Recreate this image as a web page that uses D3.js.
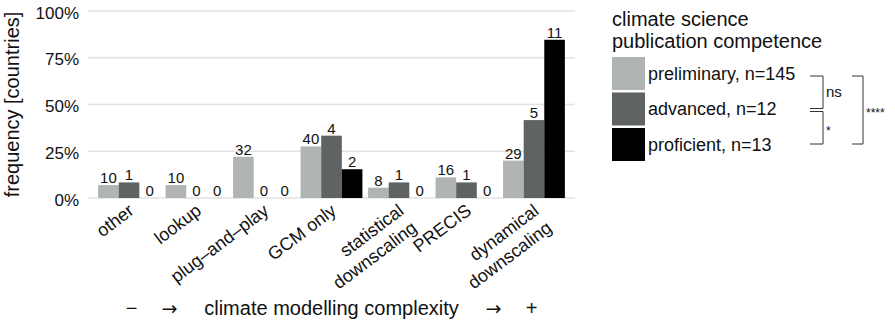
<!DOCTYPE html>
<html>
<head>
<meta charset="utf-8">
<script src="https://cdn.jsdelivr.net/npm/d3@7"></script>
<style>
  body { margin: 0; background: #fff; }
  text { font-family: "Liberation Sans", Arial, sans-serif; fill: #111; }
</style>
</head>
<body>
<script>
// categories, ordered by modelling complexity
const categories = [
  ["other"],
  ["lookup"],
  ["plug\u2013and\u2013play"],
  ["GCM only"],
  ["statistical", "downscaling"],
  ["PRECIS"],
  ["dynamical", "downscaling"]
];

const groups = ["preliminary", "advanced", "proficient"];
const groupN = [145, 12, 13];
const groupColors = ["#b1b4b4", "#5f6363", "#000000"];

// counts of countries per category
const countsPreliminary = [10, 10, 32, 40, 8, 16, 29];
const countsAdvanced = [1, 0, 0, 4, 1, 1, 5];
const countsProficient = [0, 0, 0, 2, 0, 0, 11];

const yTicks = [0, 0.25, 0.5, 0.75, 1];
const yTickLabels = ["0%", "25%", "50%", "75%", "100%"];

// significance brackets between groups
const comparisons = [
  { from: 0, to: 1, label: "ns", level: 0 },
  { from: 1, to: 2, label: "*", level: 0 },
  { from: 0, to: 2, label: "****", level: 1 }
];

window.onload = init;

function init() {
  const w = 895;
  const h = 322;
  const left = 88, right = 575, top = 11, bottom = 198;

  const counts = [countsPreliminary, countsAdvanced, countsProficient];
  const data = [];
  categories.forEach((c, i) => {
    groups.forEach((g, j) => {
      data.push({ cat: i, group: j, count: counts[j][i], share: counts[j][i] / groupN[j] });
    });
  });

  const svg = d3.select("body")
                .append("svg")
                .attr("width", w)
                .attr("height", h);

  const xScale = d3.scaleBand()
                   .domain(d3.range(categories.length))
                   .range([left, right])
                   .paddingInner(0.084)
                   .paddingOuter(0.15);

  const xInner = d3.scaleBand()
                   .domain(d3.range(groups.length))
                   .range([0, xScale.bandwidth()]);

  const yScale = d3.scaleLinear()
                   .domain([0, 1])
                   .range([bottom, top]);

  // grid
  svg.append("g")
     .selectAll("line")
     .data(yTicks)
     .enter()
     .append("line")
     .attr("x1", left)
     .attr("x2", right)
     .attr("y1", (d) => yScale(d))
     .attr("y2", (d) => yScale(d))
     .attr("stroke", "#e2e2e2")
     .attr("stroke-width", 1.5);

  const yAxis = d3.axisLeft(yScale)
                  .tickValues(yTicks)
                  .tickFormat((d, i) => yTickLabels[i])
                  .tickSize(0)
                  .tickPadding(9);
  const yG = svg.append("g")
                .attr("transform", "translate(" + left + ",0)")
                .call(yAxis);
  yG.select(".domain").remove();
  yG.selectAll("text")
    .style("font-size", "17px")
    .attr("dy", "0.42em")
    .attr("fill", "#111");

  // bars
  svg.append("g")
     .selectAll("rect")
     .data(data)
     .enter()
     .append("rect")
     .attr("x", (d) => xScale(d.cat) + xInner(d.group))
     .attr("y", (d) => yScale(d.share))
     .attr("width", xInner.bandwidth())
     .attr("height", (d) => bottom - yScale(d.share))
     .attr("fill", (d) => groupColors[d.group]);

  svg.append("g")
     .selectAll("text")
     .data(data)
     .enter()
     .append("text")
     .attr("x", (d) => xScale(d.cat) + xInner(d.group) + xInner.bandwidth() / 2)
     .attr("y", (d) => yScale(d.share) - 2)
     .attr("text-anchor", "middle")
     .style("font-size", "15px")
     .text((d) => d.count);

  // x labels, rotated
  const xLab = svg.append("g")
                  .selectAll("text")
                  .data(categories)
                  .enter()
                  .append("text")
                  .attr("text-anchor", "end")
                  .style("font-size", "18px")
                  .attr("transform", (d, i) =>
                    "translate(" + (xScale(i) + xScale.bandwidth() / 2 + 6) + "," + (bottom + 15) + ") rotate(-37)");
  xLab.selectAll("tspan")
      .data((d) => d)
      .enter()
      .append("tspan")
      .attr("x", 0)
      .attr("dy", (d, i) => i == 0 ? 0 : "1.2em")
      .text((d) => d);

  // axis titles
  svg.append("text")
     .attr("transform", "translate(19," + ((top + bottom) / 2) + ") rotate(-90)")
     .attr("text-anchor", "middle")
     .style("font-size", "20px")
     .text("frequency [countries]");

  const cx = (left + right) / 2;
  const titleY = 315;
  svg.append("text")
     .attr("x", cx)
     .attr("y", titleY)
     .attr("text-anchor", "middle")
     .style("font-size", "20px")
     .text("climate modelling complexity");
  [["\u2212", -200], ["\u2192", -162], ["\u2192", 162], ["+", 200]].forEach((p) => {
    svg.append("text")
       .attr("x", cx + p[1])
       .attr("y", titleY)
       .attr("text-anchor", "middle")
       .style("font-family", p[0] == "\u2192" ? "DejaVu Sans" : null)
       .style("font-size", p[0] == "\u2192" ? "19px" : "20px")
       .text(p[0]);
  });

  // legend
  const lx = 612;
  svg.append("text")
     .attr("x", lx)
     .attr("y", 26)
     .style("font-size", "20px")
     .text("climate science");
  svg.append("text")
     .attr("x", lx)
     .attr("y", 48)
     .style("font-size", "20px")
     .text("publication competence");

  const rowY = (i) => 57 + i * 35.5;
  const sw = 33;
  const leg = svg.append("g")
                 .selectAll("g")
                 .data(groups)
                 .enter()
                 .append("g")
                 .attr("transform", (d, i) => "translate(" + lx + "," + rowY(i) + ")");
  leg.append("rect")
     .attr("width", sw)
     .attr("height", sw)
     .attr("fill", (d, i) => groupColors[i]);
  leg.append("text")
     .attr("x", sw + 3)
     .attr("y", sw / 2)
     .attr("dy", "0.36em")
     .style("font-size", "18px")
     .text((d, i) => d + ", n=" + groupN[i]);

  // brackets
  const rowC = (i) => rowY(i) + sw / 2;
  comparisons.forEach((c) => {
    const x0 = c.level == 0 ? 810 : 852;
    const x1 = c.level == 0 ? 823 : 863;
    const y0 = rowC(c.from) + 2.5;
    const y1 = rowC(c.to) - 0.5;
    svg.append("path")
       .attr("d", "M" + x0 + "," + y0 + "H" + x1 + "V" + y1 + "H" + x0)
       .attr("fill", "none")
       .attr("stroke", "#333")
       .attr("stroke-width", 1);
    const t = svg.append("text")
                 .attr("x", x1 + 3)
                 .text(c.label);
    if (c.label == "ns") {
      t.attr("y", (y0 + y1) / 2 + 5).style("font-size", "15px");
    } else {
      t.attr("y", (y0 + y1) / 2 + 7).style("font-size", "12px");
    }
  });
}
</script>
</body>
</html>
